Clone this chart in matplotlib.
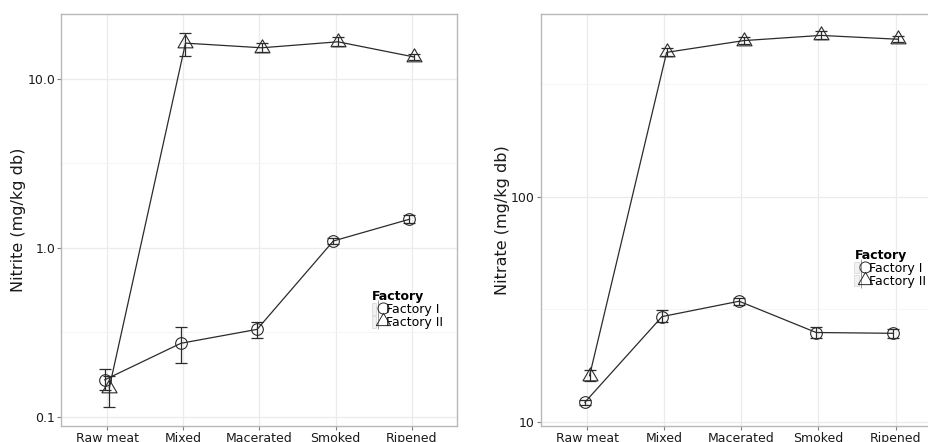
import numpy as np
import matplotlib
matplotlib.use("Agg")
import matplotlib.pyplot as plt
from matplotlib.lines import Line2D
from matplotlib.patches import Patch
from matplotlib.path import Path
from matplotlib.legend_handler import HandlerTuple

plt.rcParams['font.family'] = ['DejaVu Sans']

stages = ["Raw meat", "Mixed", "Macerated", "Smoked", "Ripened"]
series_names = ["Factory I", "Factory II"]

# Nitrite (mg/kg db)
nitrite_f1 = [0.166, 0.273, 0.330, 1.10, 1.48]
nitrite_f1_lo = [0.144, 0.210, 0.292, 1.05, 1.40]
nitrite_f1_hi = [0.192, 0.342, 0.366, 1.15, 1.56]
nitrite_f2 = [0.149, 16.3, 15.3, 16.6, 13.5]
nitrite_f2_lo = [0.114, 13.6, 14.5, 15.6, 12.9]
nitrite_f2_hi = [0.175, 18.8, 16.3, 17.8, 14.0]

# Nitrate (mg/kg db)
nitrate_f1 = [12.2, 29.3, 34.3, 24.9, 24.7]
nitrate_f1_lo = [11.9, 27.6, 33.1, 23.6, 23.6]
nitrate_f1_hi = [12.5, 31.2, 35.6, 26.3, 25.9]
nitrate_f2 = [16.0, 438, 494, 521, 501]
nitrate_f2_lo = [15.2, 420, 478, 500, 485]
nitrate_f2_hi = [16.9, 458, 512, 545, 520]

FIG_W, FIG_H = 929, 442
fig = plt.figure(figsize=(FIG_W / 100, FIG_H / 100), dpi=100)

tri = Path([(0, 1), (-0.866, -0.5), (0.866, -0.5), (0, 1)],
           [Path.MOVETO, Path.LINETO, Path.LINETO, Path.CLOSEPOLY])
LC = '#2b2b2b'
markers = ['o', tri]
msizes = [8.4, 12.5]
dodge = [-0.03, 0.03]


def panel(rect, data, ylim, yticks, yticklabels, minors, ylabel, ylab_x, leg_xy):
    ax = fig.add_axes(rect)
    ax.set_yscale('log')
    x = np.arange(1, len(stages) + 1)
    for k, (vals, lo, hi) in enumerate(data):
        xs = x + dodge[k]
        vals = np.array(vals); lo = np.array(lo); hi = np.array(hi)
        ax.errorbar(xs, vals, yerr=[vals - lo, hi - vals], fmt='none',
                    ecolor=LC, elinewidth=0.9, capsize=4.5, capthick=0.9, zorder=3)
        ax.plot(xs, vals, color=LC, lw=0.9, zorder=3)
        ax.plot(xs, vals, linestyle='none', marker=markers[k], ms=msizes[k],
                mfc='none', mec=LC, mew=0.8, zorder=4)
    ax.set_xlim(0.4, 5.6)
    ax.set_ylim(*ylim)
    ax.set_xticks(x)
    ax.set_xticklabels(stages)
    ax.set_yticks(yticks)
    ax.set_yticklabels(yticklabels)
    ax.set_yticks(minors, minor=True)
    ax.yaxis.set_minor_formatter(matplotlib.ticker.NullFormatter())
    ax.tick_params(axis='both', which='major', length=3, width=0.8, color='#7f7f7f',
                   labelsize=9, labelcolor='#1a1a1a', pad=1.5)
    ax.tick_params(axis='y', which='minor', length=0)
    ax.grid(True, which='major', color='#ebebeb', lw=0.9)
    ax.grid(True, which='minor', axis='y', color='#f4f4f4', lw=0.6)
    ax.set_axisbelow(True)
    for s in ax.spines.values():
        s.set_color('#b8b8b8')
        s.set_linewidth(1.0)
    ax.set_ylabel(ylabel, fontsize=11.5, color='#1a1a1a')
    ax.yaxis.set_label_coords(ylab_x, 0.5)

    handles = []
    for k in range(2):
        bg = Patch(facecolor='#f2f2f2', edgecolor='#d9d9d9', lw=0.6)
        vl = Line2D([], [], linestyle='none', marker='|', ms=11, mec='#8a8a8a', mew=0.6)
        mk = Line2D([], [], linestyle='none', marker=markers[k], ms=msizes[k] * 0.95,
                    mfc='none', mec=LC, mew=0.7)
        handles.append((bg, vl, mk))
    ax.legend(handles, series_names, title='Factory', loc='upper left',
              bbox_to_anchor=leg_xy, frameon=False, fontsize=9,
              title_fontproperties={'weight': 'bold', 'size': 9},
              handler_map={tuple: HandlerTuple(ndivide=None, pad=0)},
              handlelength=1.05, handleheight=1.05, handletextpad=0.1,
              labelspacing=0.0, borderpad=0, borderaxespad=0,
              alignment='left')
    return ax


def frac(px_l, px_r, px_t, px_b):
    return [px_l / FIG_W, 1 - px_b / FIG_H, (px_r - px_l) / FIG_W, (px_b - px_t) / FIG_H]


panel(frac(61.3, 457.5, 14, 426),
      [(nitrite_f1, nitrite_f1_lo, nitrite_f1_hi), (nitrite_f2, nitrite_f2_lo, nitrite_f2_hi)],
      (10 ** -1.0533, 10 ** 1.3846), [0.1, 1.0, 10.0], ["0.1", "1.0", "10.0"],
      [10 ** -0.5, 10 ** 0.5], "Nitrite (mg/kg db)", -0.089, (0.784, 0.33))

panel(frac(541, 941.8, 14, 425.7),
      [(nitrate_f1, nitrate_f1_lo, nitrate_f1_hi), (nitrate_f2, nitrate_f2_lo, nitrate_f2_hi)],
      (10 ** 0.982, 10 ** 2.812), [10, 100], ["10", "100"],
      [10 ** 1.5, 10 ** 2.5], "Nitrate (mg/kg db)", -0.077, (0.782, 0.43))

fig.savefig("out.png", dpi=100)
